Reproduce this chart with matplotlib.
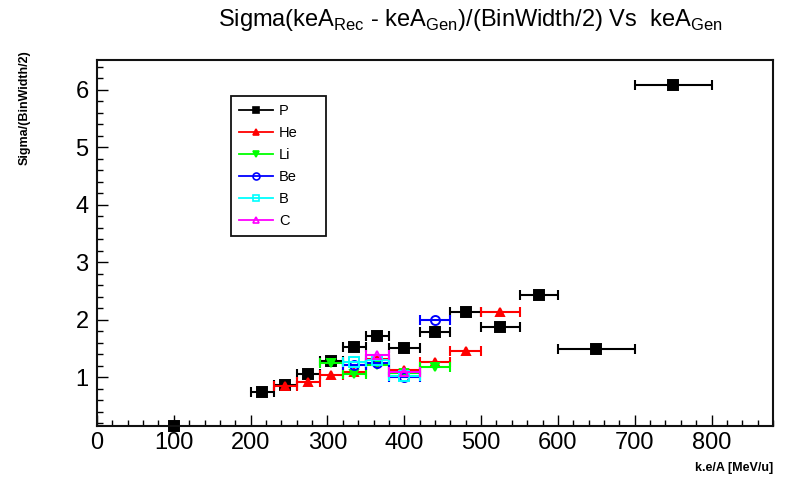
import numpy as np
import matplotlib
matplotlib.use("Agg")
import matplotlib.pyplot as plt
from matplotlib.lines import Line2D
from matplotlib.ticker import MultipleLocator

plt.rcParams['font.family'] = ['Liberation Sans', 'DejaVu Sans']
plt.rcParams['mathtext.fontset'] = 'custom'
plt.rcParams['mathtext.rm'] = 'Liberation Sans'

# Data (x = bin centre, xerr = half bin width)
p_x = [100, 215, 245, 275, 305, 335, 365, 400, 440, 480, 525, 575, 650, 750]
p_xerr = [0, 15, 15, 15, 15, 15, 15, 20, 20, 20, 25, 25, 50, 50]
p_y = [0.15, 0.74, 0.86, 1.06, 1.28, 1.52, 1.71, 1.51, 1.78, 2.13, 1.87, 2.43, 1.49, 6.08]

he_x = [245, 275, 305, 335, 365, 400, 440, 480, 525]
he_xerr = [15, 15, 15, 15, 15, 20, 20, 20, 25]
he_y = [0.85, 0.92, 1.03, 1.09, 1.31, 1.12, 1.27, 1.46, 2.14]

li_x = [305, 335, 365, 400, 440]
li_xerr = [15, 15, 15, 20, 20]
li_y = [1.25, 1.06, 1.22, 1.07, 1.17]

be_x = [335, 365, 400, 440]
be_xerr = [15, 15, 20, 20]
be_y = [1.22, 1.24, 1.00, 1.99]

b_x = [335, 365, 400]
b_xerr = [15, 15, 20]
b_y = [1.27, 1.29, 1.02]

c_x = [365, 400]
c_xerr = [15, 20]
c_y = [1.38, 1.09]

series = [
    ("P", p_x, p_xerr, p_y, "black", "s", True),
    ("He", he_x, he_xerr, he_y, "#ff0000", "^", True),
    ("Li", li_x, li_xerr, li_y, "#00ff00", "v", True),
    ("Be", be_x, be_xerr, be_y, "#0000ff", "o", False),
    ("B", b_x, b_xerr, b_y, "#00ffff", "s", False),
    ("C", c_x, c_xerr, c_y, "#ff00ff", "^", False),
]
msizes = {"s": 6.5, "^": 6, "v": 6, "o": 6.5}

fig = plt.figure(figsize=(7.86, 4.79), dpi=100)
ax = fig.add_axes([97 / 786, 53 / 479, 676 / 786, 366 / 479])

handles = []
for i, (name, x, xerr, y, col, mk, filled) in enumerate(series):
    x = np.array(x, float)
    y = np.array(y, float)
    xerr = np.array(xerr, float)
    has = xerr > 0
    ax.errorbar(x[has], y[has], xerr=xerr[has], fmt='none', ecolor=col,
                elinewidth=1.5, capsize=3.8, capthick=1.5, zorder=2 + i)
    face = col if filled else 'none'
    ax.plot(x, y, ls='none', marker=mk, ms=msizes[mk],
            mfc=face, mec=col, mew=1.4, zorder=2.5 + i, clip_on=False)
    handles.append(Line2D([], [], color=col, lw=1.3, marker=mk, ms=5,
                          mfc=face, mec=col, mew=1.2, label=name))

ax.set_xlim(0, 880)
ax.set_ylim(0.15, 6.52)
ax.xaxis.set_major_locator(MultipleLocator(100))
ax.xaxis.set_minor_locator(MultipleLocator(20))
ax.yaxis.set_major_locator(MultipleLocator(1))
ax.yaxis.set_minor_locator(MultipleLocator(0.2))
ax.tick_params(which='both', direction='in', top=False, right=False,
               labelsize=17, colors='black')
ax.tick_params(which='major', length=8, width=1)
ax.tick_params(which='minor', length=4.5, width=1)
ax.tick_params(axis='x', pad=4)
ax.tick_params(axis='y', pad=6)
for s in ax.spines.values():
    s.set_linewidth(1.5)
    s.set_color('#111111')

fig.text(470 / 786, 1 - 20 / 479,
         r"Sigma(keA$_{\rm Rec}$ - keA$_{\rm Gen}$)/(BinWidth/2) Vs  keA$_{\rm Gen}$",
         ha='center', va='center', fontsize=17)
fig.text(25 / 786, 1 - 50 / 479, "Sigma/(BinWidth/2)", rotation=90,
         ha='center', va='top', fontsize=9, fontweight='bold')
fig.text(773 / 786, 1 - 468 / 479, "k.e/A [MeV/u]", ha='right', va='center',
         fontsize=9, fontweight='bold')

leg = ax.legend(handles=handles, loc='upper left', mode='expand',
                bbox_to_anchor=(231 / 786, 1 - 235 / 479, 95 / 786, 139 / 479),
                bbox_transform=fig.transFigure, fontsize=10.5, handlelength=2.3,
                labelspacing=0.55, fancybox=False, framealpha=1,
                edgecolor='#111111', borderpad=0.55, handletextpad=0.45,
                borderaxespad=0)
leg.get_frame().set_linewidth(1.3)

plt.savefig("out.png", dpi=100)
